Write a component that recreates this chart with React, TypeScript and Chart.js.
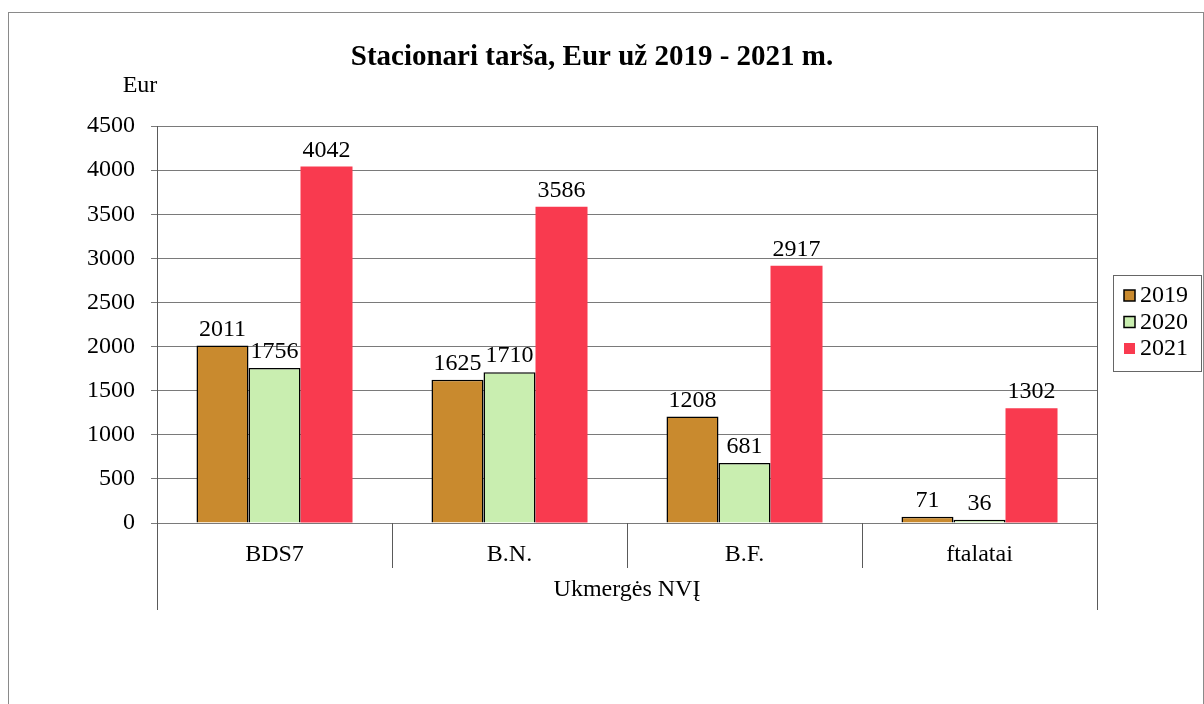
import React, { useEffect, useRef } from "react";
import { Chart, registerables } from "chart.js";

Chart.register(...registerables);

const categories = ["BDS7", "B.N.", "B.F.", "ftalatai"];
const seriesNames = ["2019", "2020", "2021"];
const values2019 = [2011, 1625, 1208, 71];
const values2020 = [1756, 1710, 681, 36];
const values2021 = [4042, 3586, 2917, 1302];
const yMax = 4500;
const yStep = 500;
const titleText = "Stacionari tarša, Eur už 2019 - 2021 m.";
const yAxisTitle = "Eur";
const groupLabel = "Ukmergės NVĮ";

const colors = ["#c98a2e", "#c9eeb0", "#f93a4f"];
const borders = ["#000000", "#000000", "rgba(0,0,0,0)"];
const borderWidths = [1.5, 1.5, 0];

const FONT = "'Liberation Serif', 'Times New Roman', serif";

const decorPlugin = {
  id: "decor",
  afterDraw(chart: any) {
    const ctx = chart.ctx;
    const area = chart.chartArea;
    const xs = chart.scales.x;
    ctx.save();
    // outer frame
    ctx.strokeStyle = "#8a8a8a";
    ctx.lineWidth = 1;
    ctx.strokeRect(8.5, 12.5, 1195, 720);

    // axes borders
    ctx.strokeStyle = "#5a5a5a";
    ctx.lineWidth = 1;
    const bottomGroup = 610;
    const sepBottom = 568;
    ctx.beginPath();
    ctx.moveTo(Math.round(area.left) + 0.5, area.top);
    ctx.lineTo(Math.round(area.left) + 0.5, bottomGroup);
    ctx.moveTo(Math.round(area.right) + 0.5, area.top);
    ctx.lineTo(Math.round(area.right) + 0.5, bottomGroup);
    const n = categories.length;
    const cw = (area.right - area.left) / n;
    for (let i = 1; i < n; i++) {
      const x = Math.round(xs.getPixelForValue(i) - cw / 2) + 0.5;
      ctx.moveTo(x, area.bottom);
      ctx.lineTo(x, sepBottom);
    }
    ctx.stroke();

    // title
    ctx.fillStyle = "#000";
    ctx.textAlign = "center";
    ctx.textBaseline = "middle";
    ctx.font = `bold 29px ${FONT}`;
    ctx.fillText(titleText, 592, 58);

    // y axis title
    ctx.font = `24px ${FONT}`;
    ctx.fillText(yAxisTitle, 140, 86);

    // group label
    ctx.font = `24px ${FONT}`;
    ctx.fillText(groupLabel, (area.left + area.right) / 2, 590);

    // data labels
    ctx.font = `24px ${FONT}`;
    ctx.textBaseline = "bottom";
    chart.data.datasets.forEach((ds: any, di: number) => {
      const meta = chart.getDatasetMeta(di);
      meta.data.forEach((bar: any, i: number) => {
        ctx.fillText(String(ds.data[i]), bar.x, bar.y - 4);
      });
    });

    // legend
    const lx = 1113, ly = 275, lw = 88, lh = 96;
    ctx.strokeStyle = "#666666";
    ctx.lineWidth = 1;
    ctx.strokeRect(lx + 0.5, ly + 0.5, lw, lh);
    ctx.textAlign = "left";
    ctx.textBaseline = "middle";
    ctx.font = `24px ${FONT}`;
    seriesNames.forEach((name, i) => {
      const cy = 295 + i * 26.5;
      ctx.fillStyle = colors[i];
      ctx.fillRect(1124, cy - 5, 11, 11);
      if (borderWidths[i] > 0) {
        ctx.strokeStyle = "#000";
        ctx.lineWidth = 1.5;
        ctx.strokeRect(1124, cy - 5, 11, 11);
      }
      ctx.fillStyle = "#000";
      ctx.fillText(name, 1140, cy + 1);
    });
    ctx.restore();
  },
};

export default function App() {
  const ref = useRef<HTMLCanvasElement | null>(null);
  useEffect(() => {
    if (!ref.current) return;
    const datasetsValues = [values2019, values2020, values2021];
    const chart = new Chart(ref.current, {
      type: "bar",
      data: {
        labels: categories,
        datasets: seriesNames.map((name, i) => ({
          label: name,
          data: datasetsValues[i],
          backgroundColor: colors[i],
          borderColor: borders[i],
          borderWidth: borderWidths[i],
          categoryPercentage: 0.664,
          barPercentage: 1.0,
        })),
      },
      options: {
        responsive: false,
        animation: false,
        devicePixelRatio: 1,
        layout: { padding: { top: 126, right: 107, left: 0, bottom: 0 } },
        plugins: {
          legend: { display: false },
          title: { display: false },
          tooltip: { enabled: false },
        },
        scales: {
          x: {
            grid: { display: false },
            border: { display: false },
            ticks: {
              color: "#000",
              font: { family: FONT, size: 24 },
              padding: 9,
            },
            afterFit: (scale: any) => {
              scale.height = 181;
            },
          },
          y: {
            min: 0,
            max: yMax,
            ticks: {
              stepSize: yStep,
              color: "#000",
              font: { family: FONT, size: 24 },
              padding: 16,
              callback: (v: any) => String(v),
            },
            grid: { color: "#7a7a7a", tickLength: 6, lineWidth: 1 },
            border: { display: false },
            afterFit: (scale: any) => {
              scale.width = 157;
            },
          },
        },
      },
      plugins: [decorPlugin],
    } as any);
    return () => chart.destroy();
  }, []);
  return (
    <div style={{ position: "absolute", left: 0, top: 0, width: 1204, height: 704, background: "#fff" }}>
      <canvas ref={ref} width={1204} height={704} style={{ display: "block" }} />
    </div>
  );
}
